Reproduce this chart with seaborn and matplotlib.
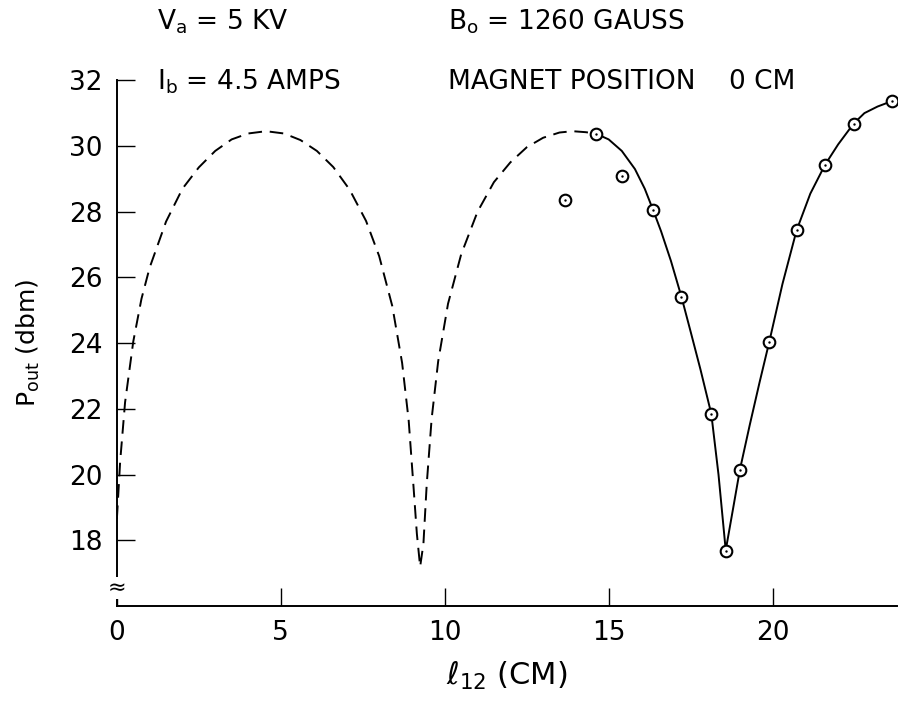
import matplotlib
matplotlib.use("Agg")
import matplotlib.pyplot as plt
import seaborn as sns
import pandas as pd

# Measured data points (l12 in cm, Pout in dbm)
meas_x = [13.66, 14.6, 15.4, 16.36, 17.22, 18.13, 18.59, 19.0, 19.9, 20.73, 21.6, 22.47, 23.65]
meas_y = [28.37, 30.38, 29.09, 28.04, 25.41, 21.85, 17.68, 20.14, 24.05, 27.43, 29.43, 30.68, 31.37]

# Dashed (extrapolated) curve
dash_x = [0.0, 0.1, 0.25, 0.5, 0.75, 1.0, 1.5, 2.0, 2.5, 3.0, 3.5, 4.0, 4.55, 5.1, 5.6,
          6.1, 6.6, 7.1, 7.6, 8.0, 8.4, 8.7, 8.9, 9.05, 9.15, 9.25,
          9.35, 9.45, 9.6, 9.8, 10.1, 10.5, 11.0, 11.5, 12.0, 12.5, 13.0, 13.5, 13.9, 14.3, 14.6]
dash_y = [18.65, 20.4, 22.2, 24.05, 25.35, 26.3, 27.7, 28.7, 29.35, 29.85, 30.2, 30.38, 30.45, 30.38, 30.18,
          29.85, 29.36, 28.67, 27.72, 26.65, 25.13, 23.4, 21.65, 19.6, 18.2, 17.2,
          17.9, 19.7, 21.7, 23.45, 25.2, 26.7, 28.0, 28.9, 29.5, 29.96, 30.25, 30.41, 30.45, 30.42, 30.38]

# Solid fitted curve
solid_x = [14.6, 15.0, 15.4, 15.8, 16.1, 16.36, 16.6, 16.9, 17.22, 17.5, 17.8, 18.13, 18.35, 18.57,
           18.8, 19.0, 19.3, 19.6, 19.9, 20.3, 20.73, 21.15, 21.6, 22.0, 22.47, 22.8, 23.2, 23.65]
solid_y = [30.38, 30.2, 29.85, 29.3, 28.7, 28.04, 27.4, 26.5, 25.41, 24.35, 23.2, 21.85, 20.0, 17.7,
           19.0, 20.14, 21.5, 22.8, 24.05, 25.8, 27.43, 28.55, 29.43, 30.05, 30.68, 31.0, 31.2, 31.37]

x_ticks = [0, 5, 10, 15, 20]
y_ticks = [18, 20, 22, 24, 26, 28, 30, 32]

sns.set_theme(style="ticks")
plt.rcParams['font.family'] = ['DejaVu Sans']
plt.rcParams['mathtext.fontset'] = 'dejavusans'
plt.rcParams['text.color'] = 'black'
plt.rcParams['axes.labelcolor'] = 'black'

fig = plt.figure(figsize=(8.99, 7.04), dpi=100)
ax = fig.add_axes([0.130, 0.139, 0.868, 0.747])

df_dash = pd.DataFrame({"x": dash_x, "y": dash_y})
df_solid = pd.DataFrame({"x": solid_x, "y": solid_y})
df_meas = pd.DataFrame({"x": meas_x, "y": meas_y})

sns.lineplot(data=df_dash, x="x", y="y", ax=ax, color="black", lw=1.4,
             linestyle=(0, (7, 4)), sort=False, estimator=None)
sns.lineplot(data=df_solid, x="x", y="y", ax=ax, color="black", lw=1.4,
             sort=False, estimator=None)
sns.scatterplot(data=df_meas, x="x", y="y", ax=ax, s=70, marker="o",
                facecolor="white", edgecolor="black", linewidth=1.5, zorder=5)
sns.scatterplot(data=df_meas, x="x", y="y", ax=ax, s=3, marker="o",
                color="black", linewidth=0, zorder=6)

ax.set_xlim(0, 23.8)
ax.set_ylim(16.0, 32)
ax.set_xticks(x_ticks)
ax.set_yticks(y_ticks)
ax.tick_params(direction="in", length=13, width=1.0, labelsize=19, pad=10, colors="black")
sns.despine(ax=ax)
for s in ["left", "bottom"]:
    ax.spines[s].set_color("black")
    ax.spines[s].set_linewidth(1.4)

ax.set_xlabel(r"$\ell_{12}$ (CM)", fontsize=22, labelpad=10)
ax.set_ylabel(r"P$_{\mathrm{out}}$ (dbm)", fontsize=18, labelpad=20)

# axis break mark
ax.text(0, 16.55, "≈", transform=ax.transData, ha="center", va="center",
        fontsize=16, color="black", bbox=dict(facecolor="white", edgecolor="none", pad=0.5),
        clip_on=False, zorder=7)

fs = 19
fig.text(157/899, 1 - 22/704, r"V$_{\mathrm{a}}$ = 5 KV", fontsize=fs, va="center", ha="left")
fig.text(157/899, 1 - 82/704, r"I$_{\mathrm{b}}$ = 4.5 AMPS", fontsize=fs, va="center", ha="left")
fig.text(448/899, 1 - 22/704, r"B$_{\mathrm{o}}$ = 1260 GAUSS", fontsize=fs, va="center", ha="left")
fig.text(448/899, 1 - 82/704, "MAGNET POSITION    0 CM", fontsize=fs, va="center", ha="left")

fig.savefig("out.png", dpi=100)
